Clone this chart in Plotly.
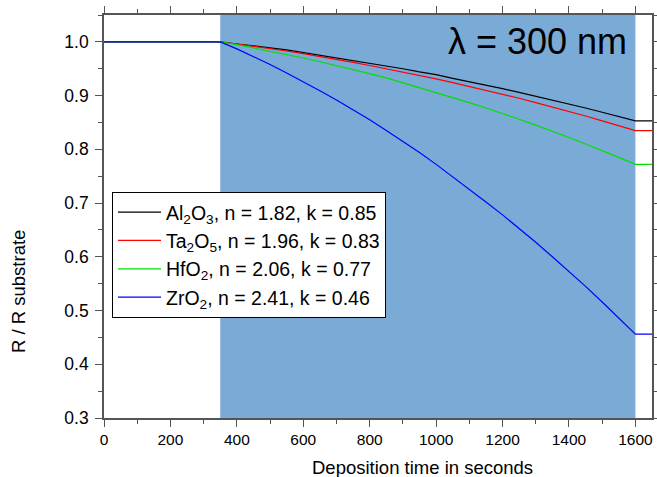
import plotly.graph_objects as go

# Deposition time (s): flat before deposition, 50 s steps while growing, flat after
time_s = [0, 350, 400, 450, 500, 550, 600, 650, 700, 750, 800, 850, 900, 950,
          1000, 1050, 1100, 1150, 1200, 1250, 1300, 1350, 1400, 1450, 1500, 1550,
          1600, 1650]

al2o3 = [1.0, 1.000, 0.996, 0.993, 0.989, 0.985, 0.980, 0.976, 0.971, 0.966, 0.961,
         0.956, 0.950, 0.944, 0.939, 0.932, 0.926, 0.920, 0.913, 0.906, 0.899,
         0.892, 0.885, 0.877, 0.869, 0.861, 0.853, 0.853]
ta2o5 = [1.0, 1.000, 0.996, 0.992, 0.987, 0.983, 0.978, 0.973, 0.968, 0.962, 0.956,
         0.950, 0.944, 0.938, 0.931, 0.924, 0.917, 0.910, 0.903, 0.895, 0.887,
         0.879, 0.871, 0.862, 0.853, 0.844, 0.835, 0.835]
hfo2 = [1.0, 1.000, 0.995, 0.989, 0.983, 0.977, 0.970, 0.963, 0.956, 0.949, 0.941,
        0.933, 0.924, 0.915, 0.906, 0.897, 0.887, 0.877, 0.867, 0.856, 0.845,
        0.834, 0.822, 0.810, 0.798, 0.785, 0.772, 0.772]
zro2 = [1.0, 1.000, 0.987, 0.973, 0.958, 0.942, 0.926, 0.909, 0.892, 0.874, 0.855,
        0.835, 0.815, 0.794, 0.772, 0.749, 0.726, 0.702, 0.678, 0.653, 0.627,
        0.600, 0.573, 0.545, 0.516, 0.486, 0.456, 0.456]

series_names = [
    "Al<sub>2</sub>O<sub>3</sub>, n = 1.82, k = 0.85",
    "Ta<sub>2</sub>O<sub>5</sub>, n = 1.96, k = 0.83",
    "HfO<sub>2</sub>, n = 2.06, k = 0.77",
    "ZrO<sub>2</sub>, n = 2.41, k = 0.46",
]
series_values = [al2o3, ta2o5, hfo2, zro2]
series_colors = ["#000000", "#ff0000", "#00e000", "#0000ff"]

# deposition window
dep_start, dep_end = 350, 1600

fig = go.Figure()
for name, vals, col in zip(series_names, series_values, series_colors):
    fig.add_trace(go.Scatter(x=time_s, y=vals, mode="lines", name=name,
                             line=dict(color=col, width=1.2)))

fig.add_shape(type="rect", xref="x", yref="paper", x0=dep_start, x1=dep_end,
              y0=0, y1=1, fillcolor="#7aaad6", line_width=0, layer="below")

fig.add_annotation(text="λ = 300 nm", xref="paper", yref="paper", x=0.958, y=0.99,
                   xanchor="right", yanchor="top", showarrow=False,
                   font=dict(size=36, color="#000000"))

# axis titles
fig.add_annotation(text="Deposition time in seconds", xref="paper", yref="paper",
                   x=0.582, y=-0.124, xanchor="center", yanchor="middle",
                   showarrow=False, font=dict(size=18.5, color="#000000"))
fig.add_annotation(text="R / R substrate", xref="paper", yref="paper",
                   x=-0.157, y=0.315, xanchor="center", yanchor="middle",
                   textangle=-90, showarrow=False, font=dict(size=18.5, color="#000000"))

axis_common = dict(
    showgrid=False, zeroline=False, showline=True, linecolor="#555555", linewidth=1.6,
    mirror="allticks", ticks="outside", ticklen=7, tickwidth=1.2, tickcolor="#555555",
    automargin=False,
)

fig.update_xaxes(range=[0, 1650], tick0=0, dtick=200,
                 tickfont=dict(size=15.5, color="#000000"),
                 minor=dict(dtick=100, ticks="outside", ticklen=4, tickcolor="#555555"),
                 **axis_common)
fig.update_yaxes(range=[0.3, 1.05], tick0=0.3, dtick=0.1, tickformat=".1f",
                 tickfont=dict(size=17.5, color="#000000"), ticklabelstandoff=3,
                 minor=dict(dtick=0.05, ticks="outside", ticklen=4, tickcolor="#555555"),
                 **axis_common)

fig.update_layout(
    width=657, height=477,
    margin=dict(l=104, r=5, t=15, b=59),
    paper_bgcolor="white", plot_bgcolor="white",
    font=dict(family="Liberation Sans, Arial, sans-serif", color="#000000"),
    showlegend=True,
    legend=dict(x=0.0146, y=0.561, xanchor="left", yanchor="top",
                bgcolor="white", bordercolor="#000000", borderwidth=1,
                font=dict(size=19.5), tracegroupgap=0, itemwidth=43),
)

fig.write_html("out.html")
